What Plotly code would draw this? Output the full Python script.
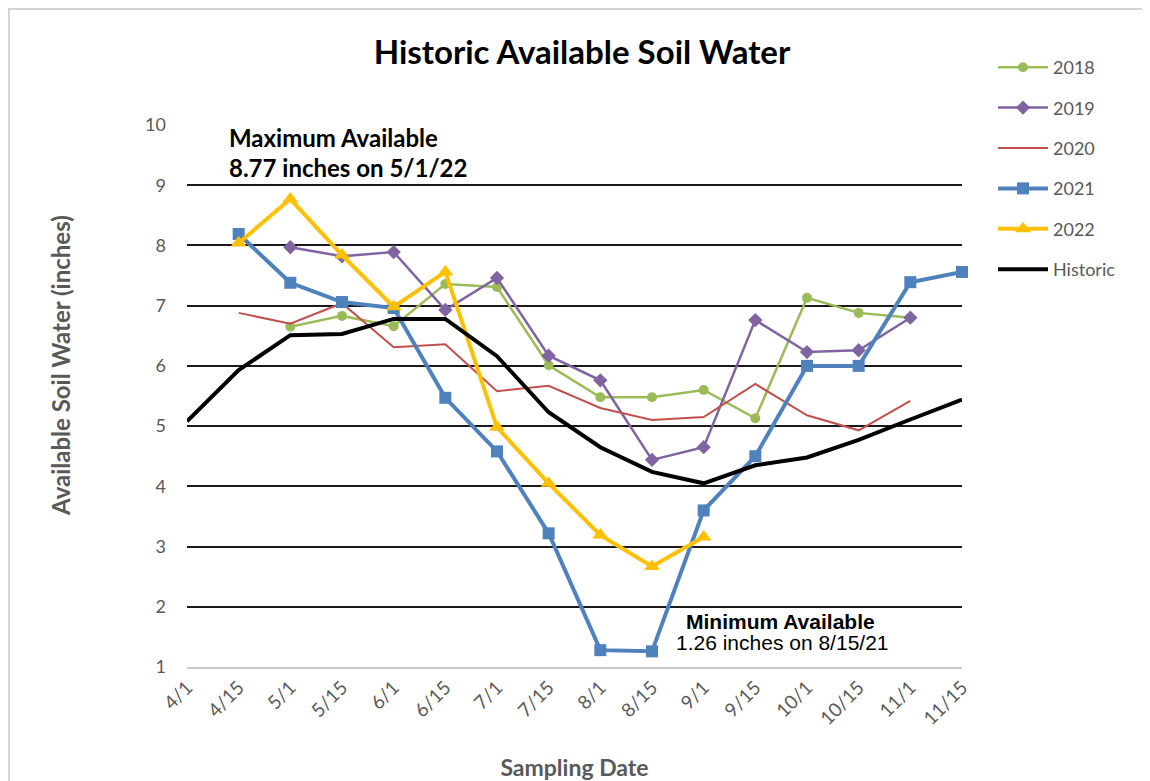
import plotly.graph_objects as go

dates = ["4/1", "4/15", "5/1", "5/15", "6/1", "6/15", "7/1", "7/15",
         "8/1", "8/15", "9/1", "9/15", "10/1", "10/15", "11/1", "11/15"]

y2018 = [None, None, 6.65, 6.83, 6.66, 7.36, 7.31, 6.01, 5.48, 5.48, 5.60, 5.13, 7.13, 6.88, 6.80, None]
y2019 = [None, None, 7.97, 7.82, 7.89, 6.93, 7.46, 6.17, 5.76, 4.44, 4.65, 6.76, 6.23, 6.26, 6.80, None]
y2020 = [None, 6.88, 6.70, 7.04, 6.31, 6.36, 5.58, 5.67, 5.30, 5.10, 5.15, 5.70, 5.18, 4.93, 5.42, None]
y2021 = [None, 8.19, 7.38, 7.06, 6.96, 5.47, 4.58, 3.22, 1.28, 1.26, 3.60, 4.50, 6.00, 6.00, 7.39, 7.56]
y2022 = [None, 8.04, 8.77, 7.84, 6.98, 7.56, 4.98, 4.05, 3.19, 2.67, 3.16, None, None, None, None, None]
historic = [5.08, 5.93, 6.51, 6.53, 6.78, 6.78, 6.16, 5.23, 4.65, 4.24, 4.05, 4.35, 4.48, 4.77, 5.11, 5.44]

y_ticks = [1, 2, 3, 4, 5, 6, 7, 8, 9, 10]

FONT = "Lato"
GRAY = "#595959"

series = [
    ("2018", y2018, "#9BBB59", 2.5, dict(symbol="circle", size=10)),
    ("2019", y2019, "#8064A2", 2.5, dict(symbol="diamond", size=11)),
    ("2020", y2020, "#C0504D", 2.0, None),
    ("2021", y2021, "#4F81BD", 4.0, dict(symbol="square", size=12)),
    ("2022", y2022, "#FFC000", 4.0, dict(symbol="triangle-up", size=14)),
    ("Historic", historic, "#000000", 4.0, None),
]

fig = go.Figure()
for name, vals, color, width, marker in series:
    kw = {}
    if marker:
        kw["mode"] = "lines+markers"
        kw["marker"] = dict(color=color, **marker)
    else:
        kw["mode"] = "lines"
    fig.add_trace(go.Scatter(
        x=dates, y=vals, name=name, legendgroup=name,
        line=dict(color=color, width=width),
        cliponaxis=False, **kw))

W, H = 1142, 773
L, T = 179, 117
PW, PH = 775, 542
R = W - L - PW
B = H - T - PH


def px(xpix):
    return (xpix - L) / PW


def py(ypix):
    return (T + PH - ypix) / PH


fig.update_layout(
    width=W, height=H,
    paper_bgcolor="white", plot_bgcolor="white",
    margin=dict(l=L, r=R, t=T, b=B, autoexpand=False),
    font=dict(family=FONT, color=GRAY),
    title=dict(text="<b>Historic Available Soil Water</b>",
               font=dict(family=FONT, size=33, color="#000000"),
               x=px(574), xanchor="center", y=1 - 44 / H, yanchor="middle", xref="paper"),
    legend=dict(x=px(985), xanchor="left", y=py(41), yanchor="top",
                font=dict(family=FONT, size=18, color=GRAY),
                tracegroupgap=14, itemwidth=50, bgcolor="rgba(0,0,0,0)"),
    xaxis=dict(type="category", categoryorder="array", categoryarray=dates,
               range=[0, 15], showgrid=False, showline=True,
               linecolor="#c8c8c8", linewidth=2, ticks="",
               tickangle=-45, tickfont=dict(family=FONT, size=19, color=GRAY),
               title=dict(text="<b>Sampling Date</b>", standoff=34,
                          font=dict(family=FONT, size=23, color=GRAY))),
    yaxis=dict(range=[1, 10], tickvals=y_ticks, showgrid=True,
               gridcolor="#1a1a1a", gridwidth=1.5, zeroline=False,
               showline=False, ticklabelstandoff=20,
               tickfont=dict(family=FONT, size=18, color=GRAY)),
)

# y-axis title (placed like the original, above the plot centre)
fig.add_annotation(x=px(52), y=py(358), xref="paper", yref="paper",
                   text="<b>Available Soil Water (inches)</b>", textangle=-90,
                   showarrow=False, xanchor="center", yanchor="middle",
                   font=dict(family=FONT, size=24, color=GRAY))

fig.add_annotation(x=0.78, y=9.79, xref="x", yref="y", text="<b>Maximum Available</b>",
                   showarrow=False, xanchor="left", yanchor="middle",
                   font=dict(family=FONT, size=24, color="#000000"))
fig.add_annotation(x=0.78, y=9.29, xref="x", yref="y", text="<b>8.77 inches on 5/1/22</b>",
                   showarrow=False, xanchor="left", yanchor="middle",
                   font=dict(family=FONT, size=24, color="#000000"))
fig.add_annotation(x=9.62, y=1.76, xref="x", yref="y", text="<b>Minimum Available</b>",
                   showarrow=False, xanchor="left", yanchor="middle",
                   font=dict(family="Liberation Sans", size=21, color="#000000"))
fig.add_annotation(x=9.42, y=1.41, xref="x", yref="y", text="1.26 inches on 8/15/21",
                   showarrow=False, xanchor="left", yanchor="middle",
                   font=dict(family="Liberation Sans", size=21, color="#000000"))

# outer frame of the chart image
fig.add_shape(type="line", xref="paper", yref="paper",
              x0=px(0), x1=px(1137), y0=py(1), y1=py(1),
              line=dict(color="#d4d4d4", width=2))
fig.add_shape(type="line", xref="paper", yref="paper",
              x0=px(1), x1=px(1), y0=py(1), y1=py(H),
              line=dict(color="#d4d4d4", width=2))
fig.add_shape(type="line", xref="paper", yref="paper",
              x0=px(1137), x1=px(1137), y0=py(1), y1=py(H),
              line=dict(color="#eeeeee", width=1))

fig.write_html("out.html")
